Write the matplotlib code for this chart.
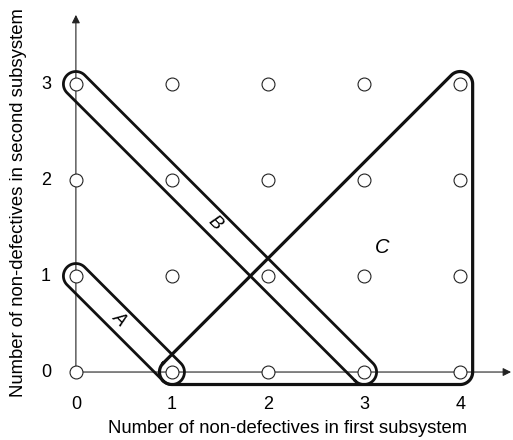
import numpy as np
import matplotlib
matplotlib.use("Agg")
import matplotlib.pyplot as plt

plt.rcParams['font.family'] = ['Liberation Sans', 'DejaVu Sans']

# grid of states
xs = [0, 1, 2, 3, 4]
ys = [0, 1, 2, 3]
x_ticks = ['0', '1', '2', '3', '4']
y_ticks = ['0', '1', '2', '3']

# regions (corner points of each outlined set)
region_a = [(1, 0), (0, 1)]
region_b = [(3, 0), (0, 3)]
region_c = [(1, 0), (4, 0), (4, 3)]


def rounded_hull(verts, r, n=30):
    # outline of a convex polygon (counter-clockwise) grown by r
    v = np.array(verts, dtype=float)
    k = len(v)
    normals = []
    for i in range(k):
        d = v[(i + 1) % k] - v[i]
        d = d / np.hypot(*d)
        normals.append(np.arctan2(-d[0], d[1]))
    pts = []
    for i in range(k):
        a0 = normals[i - 1]
        a1 = normals[i]
        while a1 < a0:
            a1 += 2 * np.pi
        a = np.linspace(a0, a1, n)
        pts.append(np.column_stack([v[i, 0] + r * np.cos(a), v[i, 1] + r * np.sin(a)]))
    pts = np.vstack(pts)
    return np.vstack([pts, pts[:1]])


fig = plt.figure(figsize=(5.13, 4.4), dpi=100)
ax = fig.add_axes([0, 0, 1, 1])
ax.set_xlim(-0.79, 4.55)
ax.set_ylim(-0.708, 3.875)
ax.axis('off')

# axes with arrows
ax.annotate('', xy=(4.53, 0), xytext=(0, 0),
            arrowprops=dict(arrowstyle='-|>', lw=0.8, color='#222222',
                            mutation_scale=12, shrinkA=0, shrinkB=0))
ax.annotate('', xy=(0, 3.72), xytext=(0, 0),
            arrowprops=dict(arrowstyle='-|>', lw=0.8, color='#222222',
                            mutation_scale=12, shrinkA=0, shrinkB=0))

r = 0.13
for reg, lw in [(region_a, 2.0), (region_b, 2.0), (region_c, 2.3)]:
    p = rounded_hull(reg, r)
    ax.plot(p[:, 0], p[:, 1], color='#111111', lw=lw, solid_joinstyle='round', zorder=3)

gx, gy = np.meshgrid(xs, ys)
ax.plot(gx.ravel(), gy.ravel(), 'o', ms=9.3, mfc='white', mec='#222222', mew=0.8, zorder=4)

for x, t in zip(xs, x_ticks):
    ax.text(x, -0.335, t, ha='center', va='center', fontsize=13)
for y, t in zip(ys, y_ticks):
    ax.text(-0.31, y, t, ha='center', va='center', fontsize=13)

ax.text(2.2, -0.585, 'Number of non-defectives in first subsystem',
        ha='center', va='center', fontsize=13.3)
ax.text(-0.6, 1.76, 'Number of non-defectives in second subsystem',
        ha='center', va='center', fontsize=13.3, rotation=90)

ax.text(0.45, 0.55, 'A', rotation=-45, style='italic', ha='center', va='center', fontsize=13)
ax.text(1.45, 1.55, 'B', rotation=-45, style='italic', ha='center', va='center', fontsize=13)
ax.text(3.19, 1.30, 'C', style='italic', ha='center', va='center', fontsize=14.5)

fig.savefig('out.png', dpi=100)
